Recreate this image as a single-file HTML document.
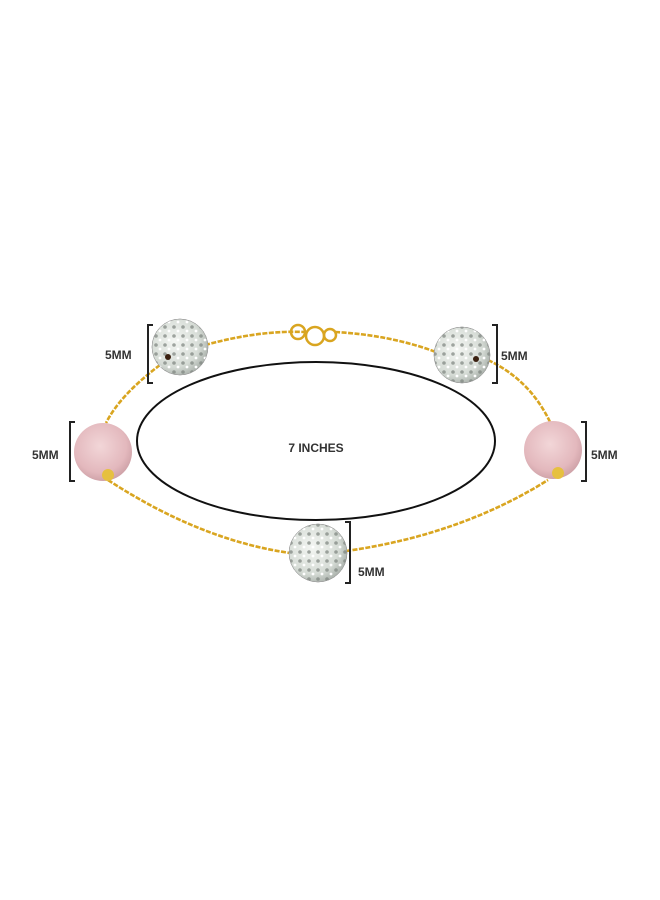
<!DOCTYPE html>
<html><head><style>
body{margin:0;background:#fff}
svg{display:block}
text{font-family:"Liberation Sans",sans-serif;font-size:12px;fill:#333;font-weight:bold}
</style></head><body>
<svg width="660" height="900" viewBox="0 0 660 900">
<defs>
<radialGradient id="cr" cx="40%" cy="40%" r="65%"><stop offset="0" stop-color="#f4f6f3"/><stop offset="0.7" stop-color="#d6dcd6"/><stop offset="1" stop-color="#a9b0aa"/></radialGradient>
<radialGradient id="pk" cx="45%" cy="40%" r="65%"><stop offset="0" stop-color="#f2d6d8"/><stop offset="0.7" stop-color="#e3b8bd"/><stop offset="1" stop-color="#c99ca2"/></radialGradient>
<pattern id="sp" width="9" height="9" patternUnits="userSpaceOnUse"><circle cx="3" cy="3" r="1.8" fill="#7c837d" opacity="0.7"/><circle cx="7" cy="7" r="1.4" fill="#fff"/></pattern>
</defs>
<g fill="none" stroke="#d9a520" stroke-width="2.6" stroke-dasharray="5 1.5">
<path d="M205,345 Q260,330 305,332"/>
<path d="M335,332 Q390,335 436,352"/>
<path d="M488,360 Q530,380 550,422"/>
<path d="M160,365 Q120,395 106,423"/>
<path d="M108,480 Q200,540 290,553"/>
<path d="M346,551 Q460,535 548,480"/>
</g>
<g fill="none" stroke="#d9a520" stroke-width="2.5">
<circle cx="298" cy="332" r="7"/><circle cx="315" cy="336" r="9"/><circle cx="330" cy="335" r="6"/>
</g>
<ellipse cx="316" cy="441" rx="179" ry="79" fill="none" stroke="#111" stroke-width="2"/>
<text x="316" y="452" text-anchor="middle" font-weight="normal">7 INCHES</text>
<g stroke="#999" stroke-width="0.5">
<circle cx="180" cy="347" r="28" fill="url(#cr)"/><circle cx="180" cy="347" r="28" fill="url(#sp)"/>
<circle cx="462" cy="355" r="28" fill="url(#cr)"/><circle cx="462" cy="355" r="28" fill="url(#sp)"/>
<circle cx="318" cy="553" r="29" fill="url(#cr)"/><circle cx="318" cy="553" r="29" fill="url(#sp)"/>
<circle cx="103" cy="452" r="29" fill="url(#pk)" stroke="none"/>
<circle cx="553" cy="450" r="29" fill="url(#pk)" stroke="none"/>
</g>
<circle cx="108" cy="475" r="6" fill="#e6c040"/><circle cx="558" cy="473" r="6" fill="#e6c040"/>
<circle cx="168" cy="357" r="3" fill="#3a2010"/><circle cx="476" cy="359" r="3" fill="#3a2010"/>
<g fill="none" stroke="#222" stroke-width="2">
<path d="M153,325 H148 V383 H153"/>
<path d="M492,325 H497 V383 H492"/>
<path d="M75,422 H70 V481 H75"/>
<path d="M581,422 H586 V481 H581"/>
<path d="M345,522 H350 V583 H345"/>
</g>
<text x="105" y="359">5MM</text>
<text x="501" y="360">5MM</text>
<text x="32" y="459">5MM</text>
<text x="591" y="459">5MM</text>
<text x="358" y="576">5MM</text>
</svg>
</body></html>
